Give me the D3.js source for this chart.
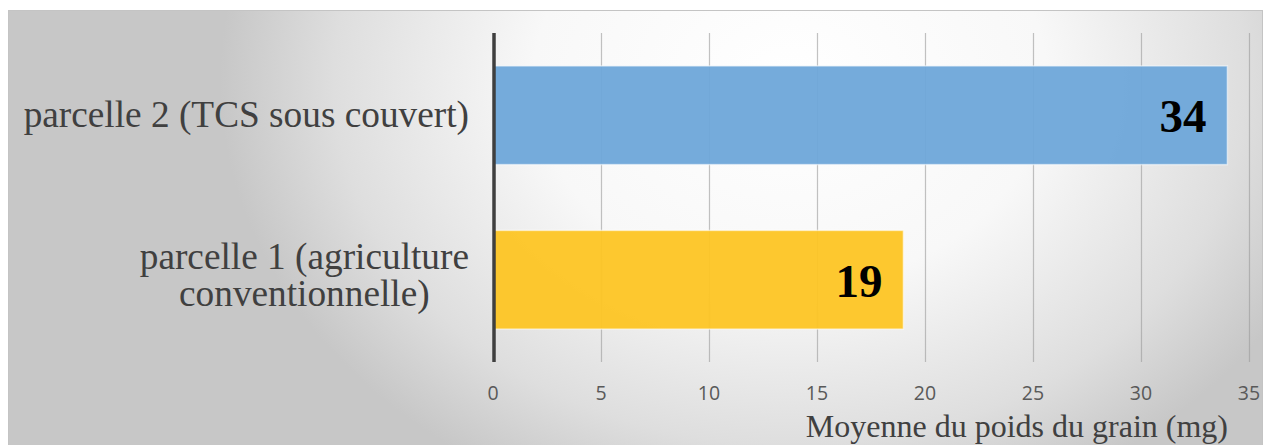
<!DOCTYPE html>
<html>
<head>
<meta charset="utf-8">
<script src="https://d3js.org/d3.v7.min.js"></script>
<style>
  html, body { margin: 0; padding: 0; background: #fff; }
  svg { display: block; }
</style>
</head>
<body>
<div id="chart"></div>
<script>
  // data
  const categories = [
    ["parcelle 2 (TCS sous couvert)"],
    ["parcelle 1 (agriculture", "conventionnelle)"],
  ];
  const values = [34, 19];
  const barColors = ["#6ea6d9", "#fdc524"];
  const xTicks = [0, 5, 10, 15, 20, 25, 30, 35];
  const xTitle = "Moyenne du poids du grain (mg)";

  const width = 1271,
    height = 445;

  const svg = d3
    .select("#chart")
    .append("svg")
    .attr("width", width)
    .attr("height", height);

  // panel background, elliptical radial grey gradient
  const grad = svg
    .append("defs")
    .append("radialGradient")
    .attr("id", "bg-grad")
    .attr("gradientUnits", "userSpaceOnUse")
    .attr("cx", 0)
    .attr("cy", 0)
    .attr("r", 570)
    .attr("gradientTransform", "translate(790,80) scale(1,0.8)");
  grad.append("stop").attr("offset", 0).attr("stop-color", "#ffffff");
  grad.append("stop").attr("offset", 0.45).attr("stop-color", "#f8f8f8");
  grad.append("stop").attr("offset", 0.8).attr("stop-color", "#dedede");
  grad.append("stop").attr("offset", 1).attr("stop-color", "#c7c7c7");

  svg
    .append("rect")
    .attr("x", 8.5)
    .attr("y", 10.5)
    .attr("width", 1254)
    .attr("height", 440)
    .attr("fill", "url(#bg-grad)")
    .attr("stroke", "#c4c4c4")
    .attr("stroke-width", 1);

  const x = d3.scaleLinear().domain([0, 35]).range([493, 1249]);
  const y = d3
    .scaleBand()
    .domain(d3.range(values.length))
    .range([33, 362])
    .paddingInner(0.4)
    .paddingOuter(0.2);

  // vertical gridlines
  svg
    .append("g")
    .selectAll("line")
    .data(xTicks.filter((t) => t > 0))
    .enter()
    .append("line")
    .attr("x1", (d) => Math.round(x(d)) + 0.5)
    .attr("x2", (d) => Math.round(x(d)) + 0.5)
    .attr("y1", 33)
    .attr("y2", 362)
    .attr("stroke", "#9a9a9a")
    .attr("stroke-opacity", 0.6)
    .attr("stroke-width", 1.2);

  // bars
  svg
    .append("g")
    .selectAll("rect")
    .data(values)
    .enter()
    .append("rect")
    .attr("x", x(0))
    .attr("y", (d, i) => y(i))
    .attr("width", (d) => x(d) - x(0))
    .attr("height", y.bandwidth())
    .attr("fill", (d, i) => barColors[i])
    .attr("fill-opacity", 0.95)
    .attr("stroke", "#ffffff")
    .attr("stroke-opacity", 0.55)
    .attr("stroke-width", 1.5);

  // value labels
  svg
    .append("g")
    .selectAll("text")
    .data(values)
    .enter()
    .append("text")
    .attr("x", (d) => x(d) - 21)
    .attr("y", (d, i) => y(i) + y.bandwidth() / 2 + 17)
    .attr("text-anchor", "end")
    .style("font-family", "'Liberation Serif', 'Times New Roman', serif")
    .style("font-weight", "bold")
    .style("font-size", "47px")
    .style("fill", "#000")
    .text((d) => d);

  // category axis line
  svg
    .append("line")
    .attr("x1", 494)
    .attr("x2", 494)
    .attr("y1", 33)
    .attr("y2", 362)
    .attr("stroke", "#3f3f3f")
    .attr("stroke-width", 3.5);

  // category labels (wrapped lines centred inside a right-aligned block)
  const labelSize = 37.3,
    lineH = 37,
    labelRight = 469;
  categories.forEach((lines, i) => {
    const g = svg
      .append("g")
      .style("font-family", "'Liberation Serif', 'Times New Roman', serif")
      .style("font-size", labelSize + "px")
      .style("fill", "#404040");
    const cy = y(i) + y.bandwidth() / 2;
    const first = cy + 12 - (lines.length - 1) * 23;
    const texts = lines.map((t, k) =>
      g
        .append("text")
        .attr("y", first + k * lineH)
        .attr("text-anchor", "middle")
        .text(t)
    );
    const w = d3.max(texts, (t) => t.node().getComputedTextLength());
    texts.forEach((t) => t.attr("x", labelRight - w / 2));
  });

  // x tick labels
  svg
    .append("g")
    .selectAll("text")
    .data(xTicks)
    .enter()
    .append("text")
    .attr("x", (d) => x(d))
    .attr("y", 400)
    .attr("text-anchor", "middle")
    .style("font-family", "'Open Sans', 'Liberation Sans', sans-serif")
    .style("font-size", "19.5px")
    .style("fill", "#595959")
    .text((d) => d);

  // x axis title
  svg
    .append("text")
    .attr("x", 1228)
    .attr("y", 437)
    .attr("text-anchor", "end")
    .style("font-family", "'Liberation Serif', 'Times New Roman', serif")
    .style("font-size", "32px")
    .style("fill", "#404040")
    .text(xTitle);
</script>
</body>
</html>
